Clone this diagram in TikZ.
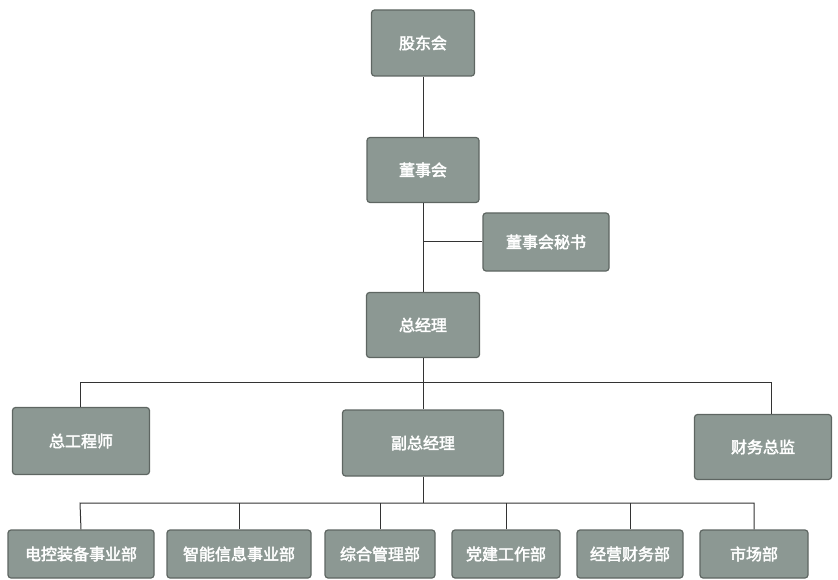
\documentclass[tikz,border=0pt]{standalone}
\usepackage{fontspec}
\usepackage{tikz}
\usepackage{xcolor}
\newfontfamily\cjk{Noto Sans CJK SC}[FakeBold=2.5]
\definecolor{boxgray}{HTML}{8C9893}
\definecolor{boxedge}{HTML}{5E6662}

\begin{document}
\begin{tikzpicture}[x=1pt,y=-1pt,
  unit/.style={draw=boxedge,fill=boxgray,line width=1.2pt,rounded corners=3pt,
    text=white,font=\cjk\fontsize{16}{18}\selectfont,inner sep=0pt},
  link/.style={draw=black!80,line width=1pt}]
\useasboundingbox (0,0) rectangle (838,580);
\node[unit,minimum width=103pt,minimum height=66pt] (gd) at (423,43) {股东会};
\node[unit,minimum width=112pt,minimum height=65pt] (dsh) at (423,170) {董事会};
\node[unit,minimum width=126pt,minimum height=58pt] (ms) at (546,242) {董事会秘书};
\node[unit,minimum width=113pt,minimum height=65pt] (zjl) at (423,325) {总经理};
\node[unit,minimum width=137pt,minimum height=67pt] (zgs) at (81,441) {总工程师};
\node[unit,minimum width=161pt,minimum height=66pt] (fzjl) at (423,443) {副总经理};
\node[unit,minimum width=137pt,minimum height=65pt] (cwzj) at (763,447) {财务总监};
\node[unit,minimum width=146pt,minimum height=48pt] (dk) at (81,554) {电控装备事业部};
\node[unit,minimum width=144pt,minimum height=48pt] (zn) at (239,554) {智能信息事业部};
\node[unit,minimum width=110pt,minimum height=48pt] (zh) at (380,554) {综合管理部};
\node[unit,minimum width=108pt,minimum height=48pt] (dj) at (506,554) {党建工作部};
\node[unit,minimum width=106pt,minimum height=48pt] (jy) at (630,554) {经营财务部};
\node[unit,minimum width=108pt,minimum height=48pt] (sc) at (754,554) {市场部};
\coordinate (busa) at (80,382);
\coordinate (busb) at (771,382);
\coordinate (busc) at (80,503);
\coordinate (busd) at (754,503);
\draw[link] (gd.south) -- (dsh.north);
\draw[link] (dsh.south) -- (zjl.north);
\draw[link] (dsh.south |- ms.west) -- (ms.west);
\draw[link] (zjl.south) -- (zjl.south |- busa);
\draw[link] (busa |- zgs.north) -- (busa) -- (busb) -- (busb |- cwzj.north);
\draw[link] (zjl.south |- busa) -- (fzjl.north);
\draw[link] (fzjl.south) -- (fzjl.south |- busc);
\draw[link] (dk.north) -- (busc) -- (busd) -- (sc.north);
\foreach \n in {zn,zh,dj,jy}
  \draw[link] (\n.north) -- (\n.north |- busc);
\end{tikzpicture}
\end{document}
